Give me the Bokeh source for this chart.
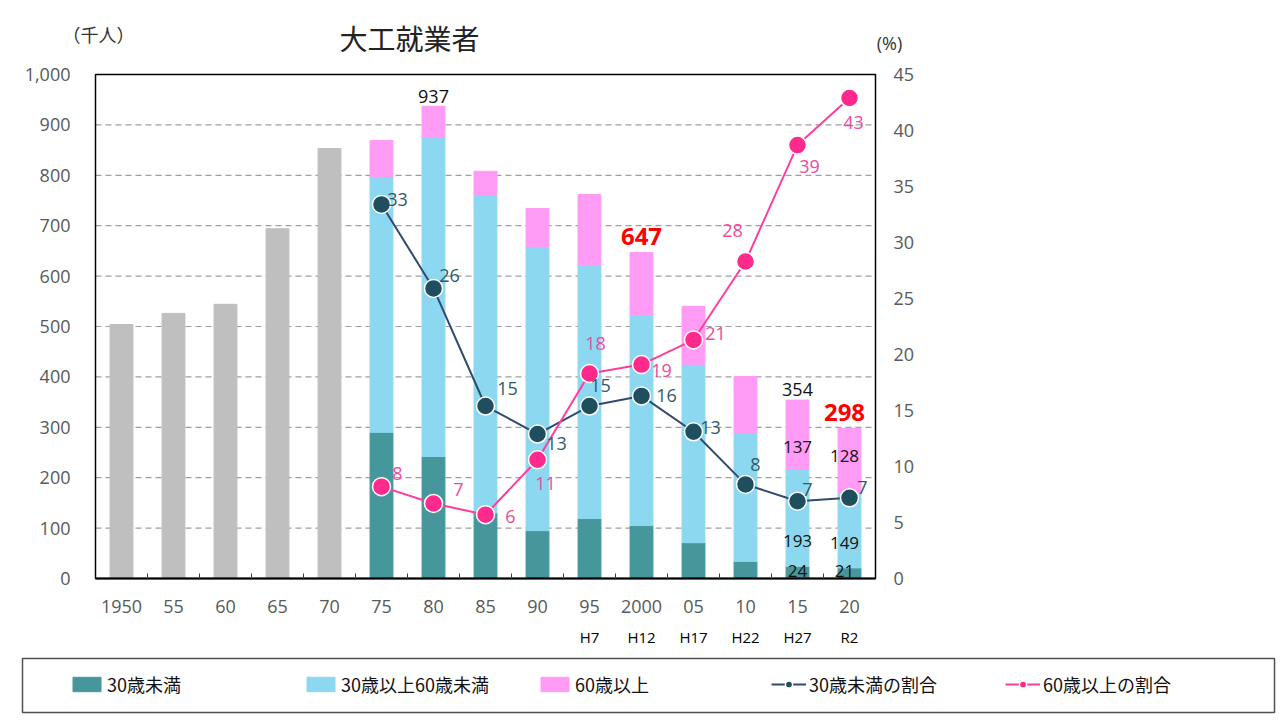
from bokeh.plotting import figure
from bokeh.models import ColumnDataSource, Range1d
from bokeh.core.properties import value
from bokeh.embed import file_html
from bokeh.resources import INLINE

# ---------------- data ----------------
years = ["1950", "55", "60", "65", "70", "75", "80", "85", "90", "95",
         "2000", "05", "10", "15", "20"]
eras = ["", "", "", "", "", "", "", "", "", "H7", "H12", "H17", "H22", "H27", "R2"]
early_total = [504, 526, 544, 694, 853]          # 1950-70 (千人)
under30 = [290, 242, 130, 95, 119, 105, 71, 34, 24, 21]
age30_59 = [506, 633, 632, 562, 504, 419, 354, 254, 193, 149]
over60 = [73, 62, 46, 77, 139, 123, 115, 113, 137, 128]
share_under30 = [33.4, 25.9, 15.4, 12.9, 15.4, 16.3, 13.1, 8.4, 6.9, 7.2]   # %
share_over60 = [8.2, 6.7, 5.7, 10.6, 18.3, 19.1, 21.3, 28.3, 38.7, 42.9]    # %
left_ticks = [0, 100, 200, 300, 400, 500, 600, 700, 800, 900, 1000]
right_ticks = [0, 5, 10, 15, 20, 25, 30, 35, 40, 45]
total_label_years = ["80", "2000", "15", "20"]
segment_label_years = ["15", "20"]
title_text = "大工就業者"
left_unit = "（千人）"
right_unit = "(%)"
Y_MAX = 1000
PCT_MAX = 45

# ---------------- styles / layout ----------------
C_U30 = "#46979C"
C_MID = "#8DD8F1"
C_O60 = "#FF9BF5"
C_GRAY = "#BFBFBF"
C_LINE_U = "#2F4B6E"
C_MARK_U = "#1F4E5E"
C_TXT_U = "#2F5A68"
C_LINE_O = "#FF3D9E"
C_MARK_O = "#FF2A8C"
C_TXT_O = "#F04A9C"
NUMF = value("Open Sans")
JPF = value("Noto Sans CJK JP")
TICK_GRAY = "#595959"
CW, CH = 1278, 716                 # canvas
BOX_L, BOX_R, BOX_T, BOX_B = 95, 875, 74, 578   # plot box in pixels
LEG_L, LEG_R, LEG_T, LEG_B = 22, 1274, 658, 712  # legend frame in pixels

n = len(years)
pxu = (BOX_R - BOX_L) / n
pyu = (BOX_B - BOX_T) / Y_MAX
ppu = (BOX_B - BOX_T) / PCT_MAX


def px2x(px):
    return (px - BOX_L) / pxu


def py2y(py):
    return (BOX_B - py) / pyu


xc = [i + 0.5 for i in range(n)]
n_early = len(early_total)
x_early = xc[:n_early]
x_late = xc[n_early:]
late_years = years[n_early:]

src = ColumnDataSource(dict(
    x=x_late, u30=under30, mid=age30_59, o60=over60,
    su=share_under30, so=share_over60,
    su_txt=[str(round(v)) for v in share_under30],
    so_txt=[str(round(v)) for v in share_over60],
    su_dx=[16, 16, 22, 19, 11, 25, 17, 10, 10, 13],
    su_dy=[-5, -13, -18, 9, -21, 0, -4, -20, -12, -10],
    so_dx=[16, 25, 25, 8, 6, 20, 22, -13, 12, 4],
    so_dy=[-13, -14, 2, 24, -30, 6, -6, -31, 21, 24],
))

p = figure(width=CW, height=CH, output_backend="svg", toolbar_location=None,
           x_range=Range1d(px2x(0), px2x(CW)),
           y_range=Range1d(py2y(CH), py2y(0)),
           x_axis_type=None, y_axis_type=None, title_location=None,
           min_border=0)
p.extra_y_ranges = {"pct": Range1d(-(CH - BOX_B) / ppu, PCT_MAX + BOX_T / ppu)}
p.grid.visible = False
p.outline_line_color = None
p.background_fill_color = "white"
p.border_fill_color = "white"

# grid lines (dashed)
gt = left_ticks[1:-1]
p.segment(x0=[0] * len(gt), x1=[n] * len(gt), y0=gt, y1=gt,
          line_color="#9E9E9E", line_dash="6 4", line_width=1.2)

# bars
W = 0.44
p.vbar(x=x_early, top=early_total, width=W, color=C_GRAY)
p.vbar_stack(["u30", "mid", "o60"], x="x", width=W, source=src,
             color=[C_U30, C_MID, C_O60],
             legend_label=["30歳未満", "30歳以上60歳未満", "60歳以上"])

# plot box + axis line + category boundary ticks
p.quad(left=[0], right=[n], bottom=[0], top=[Y_MAX], fill_color=None,
       line_color="black", line_width=1.5)
p.segment(x0=[0], x1=[n], y0=[0], y1=[0], line_color="black", line_width=2)
p.ray(x=list(range(1, n)), y=[0] * (n - 1), length=5, length_units="screen",
      angle=90, angle_units="deg", line_color="#404040", line_width=1)

# share lines
p.line("x", "su", source=src, y_range_name="pct", line_color=C_LINE_U,
       line_width=2, legend_label="30歳未満の割合")
p.scatter("x", "su", source=src, y_range_name="pct", size=18,
          fill_color=C_MARK_U, line_color="white", line_width=1.5,
          legend_label="30歳未満の割合")
p.line("x", "so", source=src, y_range_name="pct", line_color=C_LINE_O,
       line_width=2, legend_label="60歳以上の割合")
p.scatter("x", "so", source=src, y_range_name="pct", size=18,
          fill_color=C_MARK_O, line_color="white", line_width=1.5,
          legend_label="60歳以上の割合")

# share labels
p.text("x", "su", text="su_txt", source=src, y_range_name="pct",
       x_offset="su_dx", y_offset="su_dy", text_align="center",
       text_baseline="middle", text_font=NUMF, text_font_size="18px",
       text_color=C_TXT_U)
p.text("x", "so", text="so_txt", source=src, y_range_name="pct",
       x_offset="so_dx", y_offset="so_dy", text_align="center",
       text_baseline="middle", text_font=NUMF, text_font_size="18px",
       text_color=C_TXT_O)

# total labels
idx_tot = [late_years.index(y) for y in total_label_years]
tot = [under30[i] + age30_59[i] + over60[i] for i in idx_tot]
tsrc = ColumnDataSource(dict(
    x=[x_late[i] for i in idx_tot], y=tot, t=[str(v) for v in tot],
    color=["#111111", "#FF0000", "#111111", "#FF0000"],
    size=["18px", "24px", "18px", "24px"],
    style=["normal", "bold", "normal", "bold"],
    dx=[0, 0, 0, -5],
    dy=[-3, -7, -4, -7],
))
p.text("x", "y", text="t", source=tsrc, x_offset="dx", y_offset="dy",
       text_align="center", text_baseline="bottom", text_font=NUMF,
       text_font_size="size", text_color="color", text_font_style="style")

# segment labels inside last two bars
idx_seg = [late_years.index(y) for y in segment_label_years]
sx = [x_late[i] for i in idx_seg]
o60_y = [under30[i] + age30_59[i] + over60[i] / 2 for i in idx_seg]
mid_y = [under30[i] for i in idx_seg]
ssrc = ColumnDataSource(dict(
    x=sx * 3,
    y=o60_y + mid_y + mid_y,
    t=[str(over60[i]) for i in idx_seg] + [str(age30_59[i]) for i in idx_seg]
      + [str(under30[i]) for i in idx_seg],
    dx=[0, -5] * 3,
    dy=[12, -5, -25, -25, 5, 3],
))
p.text("x", "y", text="t", source=ssrc, x_offset="dx", y_offset="dy",
       text_align="center", text_baseline="middle", text_font=NUMF,
       text_font_size="17px", text_color="#111111")

# axis tick labels
p.text(x=[0] * len(left_ticks), y=left_ticks,
       text=[f"{v:,}" for v in left_ticks], x_offset=-25,
       text_align="right", text_baseline="middle", text_font=NUMF,
       text_font_size="18px", text_color=TICK_GRAY)
p.text(x=[n] * len(right_ticks), y=right_ticks, y_range_name="pct",
       text=[str(v) for v in right_ticks], x_offset=18,
       text_align="left", text_baseline="middle", text_font=NUMF,
       text_font_size="18px", text_color=TICK_GRAY)
p.text(x=xc, y=[0] * n, text=years, y_offset=28, text_align="center",
       text_baseline="middle", text_font=NUMF, text_font_size="18px",
       text_color=TICK_GRAY)
p.text(x=xc, y=[0] * n, text=eras, y_offset=58, text_align="center",
       text_baseline="middle", text_font=NUMF, text_font_size="15px",
       text_color="#000000")

# header texts
p.text(x=[px2x(98)], y=[py2y(33)], text=[left_unit], text_align="center",
       text_baseline="middle", text_font=JPF, text_font_size="18px",
       text_color="#333333")
p.text(x=[px2x(409)], y=[py2y(37)], text=[title_text], text_align="center",
       text_baseline="middle", text_font=JPF, text_font_size="28px",
       text_color="#222222")
p.text(x=[px2x(889)], y=[py2y(42)], text=[right_unit], text_align="center",
       text_baseline="middle", text_font=NUMF, text_font_size="18px",
       text_color="#333333")

# legend frame (wide box like the reference)
p.quad(left=[px2x(LEG_L)], right=[px2x(LEG_R)], top=[py2y(LEG_T)],
       bottom=[py2y(LEG_B)], fill_color="white", line_color="#505050",
       line_width=1.5, level="annotation")

# legend
lg = p.legend[0]
lg.orientation = "horizontal"
lg.location = (69, CH - LEG_B + 15)
lg.glyph_width = 35
lg.glyph_height = 18
lg.label_standoff = 3
lg.label_width = 176
lg.label_height = 20
lg.spacing = 20
lg.padding = 12
lg.margin = 0
lg.label_text_font = "Noto Sans CJK JP"
lg.label_text_font_size = "18px"
lg.label_text_color = "#111111"
lg.border_line_color = None
lg.background_fill_alpha = 0

open("out.html", "w").write(file_html(p, INLINE))
